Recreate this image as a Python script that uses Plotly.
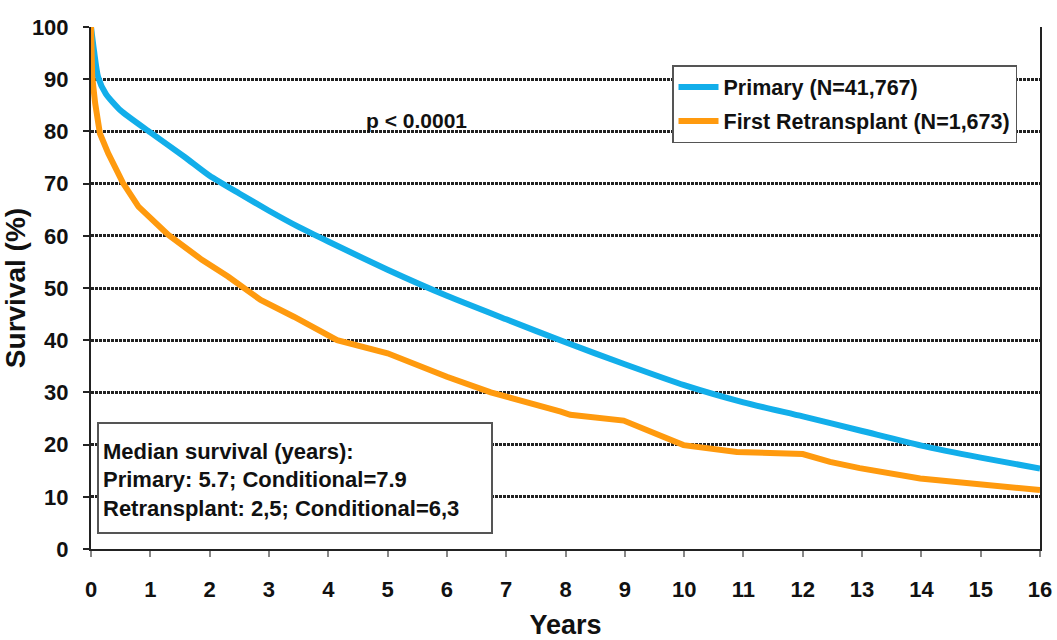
import plotly.graph_objects as go

# ---- data ----
primary_years = [0, 0.05, 0.12, 0.25, 0.5, 1, 1.58, 2, 2.5, 3, 3.5, 4, 5, 6, 7, 8, 9, 10, 11, 12, 13, 14, 15, 16]
primary_surv = [100, 95.5, 90.4, 87.2, 84.0, 79.8, 75.1, 71.5, 68.1, 64.8, 61.7, 58.9, 53.5, 48.5, 44.0, 39.6, 35.4, 31.4, 28.1, 25.4, 22.6, 19.8, 17.5, 15.4]

retx_years = [0, 0.02, 0.07, 0.15, 0.29, 0.54, 0.8, 1.3, 1.87, 2.31, 2.86, 3.42, 4.15, 5.0, 6.0, 6.74, 7.92, 8.08, 8.98, 9.99, 10.89, 12.0, 12.46, 12.96, 13.98, 14.99, 16]
retx_surv = [100, 90.5, 85.4, 79.6, 75.8, 70.1, 65.6, 60.2, 55.4, 52.2, 47.7, 44.5, 40.0, 37.5, 33.0, 30.0, 26.3, 25.7, 24.6, 19.9, 18.6, 18.2, 16.7, 15.5, 13.5, 12.3, 11.3]

series_names = ["Primary (N=41,767)", "First Retransplant (N=1,673)"]
x_ticks = list(range(0, 17))
y_ticks = list(range(0, 101, 10))
median_lines = ["Median survival (years):",
                "Primary: 5.7; Conditional=7.9",
                "Retransplant: 2,5; Conditional=6,3"]
p_text = "p < 0.0001"

FONT = "Liberation Sans, Arial, sans-serif"
BLUE = "#12AEEA"
ORANGE = "#FF9A0E"

# plot area geometry (pixels)
L, R, T, B = 91, 1040, 27, 549
W, H = 1057, 640

def px(x):
    return (x - L) / (R - L)

def py(y):
    return (B - y) / (B - T)

fig = go.Figure()
fig.add_trace(go.Scatter(x=primary_years, y=primary_surv, mode="lines",
                         name=series_names[0], legendgroup="a",
                         line=dict(color=BLUE, width=6, shape="spline", smoothing=0.6)))
fig.add_trace(go.Scatter(x=retx_years, y=retx_surv, mode="lines",
                         name=series_names[1], legendgroup="b",
                         line=dict(color=ORANGE, width=6)))

fig.update_layout(
    width=W, height=H,
    margin=dict(l=L, r=W - R, t=T, b=H - B, pad=0, autoexpand=False),
    paper_bgcolor="white", plot_bgcolor="white",
    font=dict(family=FONT, size=21, color="black", weight="bold"),
    showlegend=True,
    legend=dict(x=px(672), y=py(65), xanchor="left", yanchor="top",
                bgcolor="white", bordercolor="#555", borderwidth=1.5,
                font=dict(family=FONT, size=21.5, color="#111", weight="bold"),
                itemwidth=40, tracegroupgap=3, traceorder="grouped"),
)

fig.update_xaxes(range=[0, 16], tickvals=x_ticks, ticktext=[str(v) for v in x_ticks],
                 automargin=False,
                 showgrid=False, zeroline=False,
                 showline=True, linecolor="#222", linewidth=2, mirror=False,
                 ticks="outside", ticklen=6, tickcolor="#888", tickwidth=2,
                 ticklabelstandoff=14,
                 tickfont=dict(family=FONT, size=22, color="#111", weight="bold"),
                 title=dict(text="Years", standoff=14,
                            font=dict(family=FONT, size=27, color="#111", weight="bold")))

fig.update_yaxes(range=[0, 100], tickvals=y_ticks, ticktext=[str(v) for v in y_ticks],
                 automargin=False,
                 showgrid=True, gridcolor="#222", gridwidth=2.5, griddash="3px,1px",
                 zeroline=False,
                 showline=True, linecolor="#222", linewidth=2, mirror=True,
                 ticks="outside", ticklen=6, tickcolor="#222", tickwidth=1.5,
                 ticklabelstandoff=10,
                 tickfont=dict(family=FONT, size=22, color="#111", weight="bold"),
                 title=dict(text="Survival (%)", standoff=6,
                            font=dict(family=FONT, size=28, color="#111", weight="bold")))

# p-value annotation
fig.add_annotation(x=px(416), y=py(107), xref="paper", yref="paper",
                   text=p_text, showarrow=False,
                   font=dict(family=FONT, size=21, color="#111", weight="bold"))

# median survival box
fig.add_shape(type="rect", xref="paper", yref="paper",
              x0=px(98), x1=px(492), y0=py(533), y1=py(423),
              fillcolor="white", line=dict(color="#555", width=2), layer="above")
for i, t in enumerate(median_lines):
    fig.add_annotation(x=px(101), y=py(451 + 28.5 * i), xref="paper", yref="paper",
                       xanchor="left", yanchor="middle", text=t, showarrow=False,
                       font=dict(family=FONT, size=22, color="#111", weight="bold"))

fig.write_html("out.html")
